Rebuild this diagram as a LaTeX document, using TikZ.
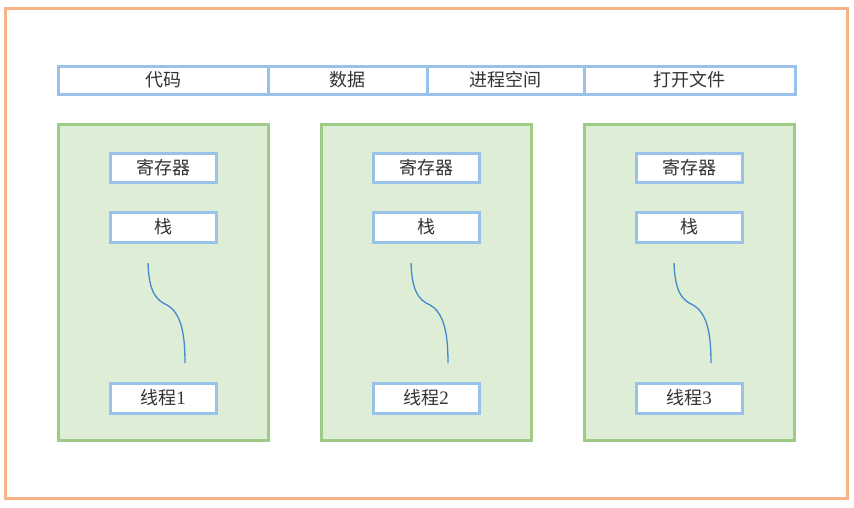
\documentclass[tikz,border=0pt]{standalone}
\usepackage{fontspec}
\setmainfont{Liberation Serif}
\newfontfamily\cjk{Noto Sans CJK SC}
\definecolor{outerc}{RGB}{248,180,136}
\definecolor{bluec}{RGB}{152,194,232}
\definecolor{greenb}{RGB}{158,204,134}
\definecolor{greenf}{RGB}{222,237,214}
\definecolor{curvec}{RGB}{66,138,205}
\tikzset{
  cell/.style={draw=bluec, line width=3pt, fill=white, minimum height=28pt, inner sep=0pt, font=\cjk\fontsize{18}{18}\selectfont, text=black!80},
  threadbox/.style={draw=greenb, line width=3pt, fill=greenf, minimum width=210pt, minimum height=316pt, inner sep=0pt},
  wire/.style={draw=curvec, line width=1.3pt},
}
\begin{document}
\begin{tikzpicture}[x=1pt,y=-1pt]
\useasboundingbox (0,0) rectangle (854,507);
\fill[white] (0,0) rectangle (854,507);
\node[draw=outerc, line width=3pt, minimum width=842pt, minimum height=490pt, inner sep=0pt] (outer) at (426,253) {};
% top bar
\node[cell, minimum width=210pt] (code) at (163,80) {代码};
\node[cell, minimum width=159pt] (data) at (347.5,80) {数据};
\node[cell, minimum width=157pt] (space) at (505.5,80) {进程空间};
\node[cell, minimum width=211pt] (files) at (689.5,80) {打开文件};
% thread columns
\foreach \i/\dx in {1/0,2/263,3/526}{
  \node[threadbox] (t\i) at (163+\dx,282) {};
  \node[cell, minimum width=106pt, minimum height=29pt] (reg\i) at (163+\dx,167.5) {寄存器};
  \node[cell, minimum width=106pt, minimum height=30pt] (stk\i) at (163+\dx,227) {栈};
  \node[cell, minimum width=106pt, minimum height=30pt] (thr\i) at (163+\dx,398) {线程{\rmfamily\fontsize{19}{19}\selectfont\i}};
  \coordinate (ws\i) at (148+\dx,263);
  \coordinate (wm\i) at (167+\dx,305);
  \coordinate (we\i) at (185+\dx,363);
  \draw[wire] (ws\i) .. controls (149+\dx,292) and (156+\dx,300) .. (wm\i) .. controls (181+\dx,313) and (185+\dx,333) .. (we\i);
}
\end{tikzpicture}
\end{document}
